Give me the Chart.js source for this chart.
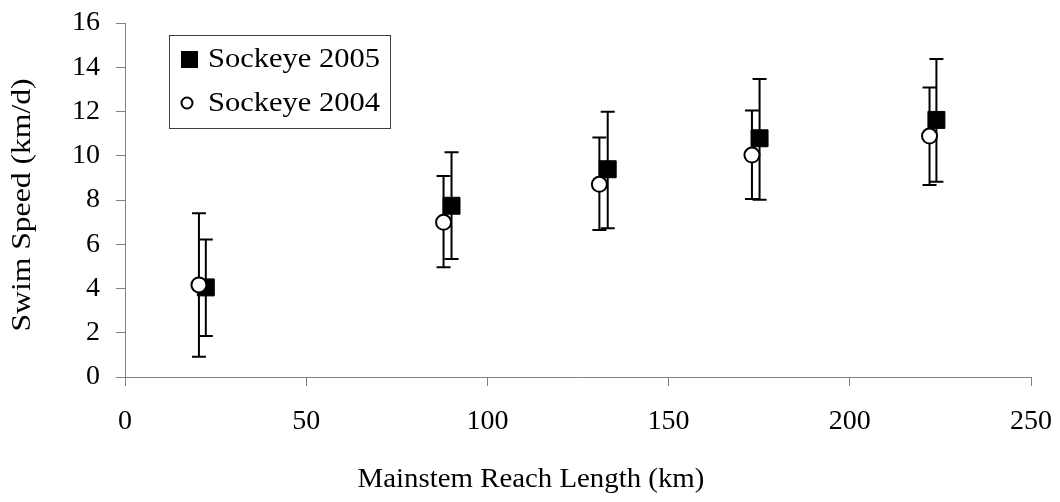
<!DOCTYPE html>
<html>
<head>
<meta charset="utf-8">
<script src="https://cdn.jsdelivr.net/npm/chart.js@4/dist/chart.umd.min.js"></script>
<style>
  body { margin: 0; background: #fff; }
  #wrap { width: 1060px; height: 502px; }
</style>
</head>
<body>
<div id="wrap"><canvas id="grafico" width="1060" height="502"></canvas></div>
<script>
// dados
const km2005 = [22.3, 90.1, 133.2, 175.1, 223.9];
const speed2005 = [4.05, 7.74, 9.39, 10.79, 11.62];
const hi2005 = [6.22, 10.16, 11.99, 13.47, 14.37];
const lo2005 = [1.85, 5.33, 6.72, 8.01, 8.83];

const km2004 = [20.4, 87.9, 130.9, 173.0, 222.0];
const speed2004 = [4.16, 6.99, 8.71, 10.03, 10.89];
const hi2004 = [7.40, 9.08, 10.82, 12.04, 13.09];
const lo2004 = [0.92, 4.96, 6.64, 8.05, 8.68];

const xTicks = [0, 50, 100, 150, 200, 250];
const yTicks = [0, 2, 4, 6, 8, 10, 12, 14, 16];

const tituloX = 'Mainstem Reach Length (km)';
const tituloY = 'Swim Speed (km/d)';

const familia = "'Liberation Serif', 'Times New Roman', serif";
const fonte = { family: familia, size: 28 };

function pontos(xs, ys, his, los) {
  return xs.map((x, i) => ({ x: x, y: ys[i], hi: his[i], lo: los[i] }));
}

// texto levemente esticado na horizontal
function textoEsticado(ctx, txt, x, y, rot, esticar) {
  ctx.save();
  ctx.translate(x, y);
  ctx.rotate(rot);
  ctx.scale(esticar, 1);
  ctx.fillText(txt, 0, 0);
  ctx.restore();
}

// barras de erro desenhadas antes dos marcadores
const barrasErro = {
  id: 'barrasErro',
  beforeDatasetsDraw(chart) {
    const ctx = chart.ctx;
    const xs = chart.scales.x, ys = chart.scales.y;
    ctx.save();
    ctx.strokeStyle = '#000';
    ctx.lineWidth = 2;
    chart.data.datasets.forEach(ds => {
      ds.data.forEach(p => {
        const px = xs.getPixelForValue(p.x);
        const top = ys.getPixelForValue(p.hi);
        const bot = ys.getPixelForValue(p.lo);
        ctx.beginPath();
        ctx.moveTo(px, top); ctx.lineTo(px, bot);
        ctx.moveTo(px - 7, top); ctx.lineTo(px + 7, top);
        ctx.moveTo(px - 7, bot); ctx.lineTo(px + 7, bot);
        ctx.stroke();
      });
    });
    ctx.restore();
  }
};

// títulos dos eixos + legenda dentro da área do gráfico
const legendaCaixa = {
  id: 'legendaCaixa',
  afterDraw(chart) {
    const ctx = chart.ctx;
    ctx.save();
    ctx.font = '28px ' + familia;
    ctx.fillStyle = '#000';
    ctx.textAlign = 'center';
    ctx.textBaseline = 'middle';
    textoEsticado(ctx, tituloX, 531, 480, 0, 1.03);
    textoEsticado(ctx, tituloY, 23, 205, -Math.PI / 2, 1.13);

    ctx.fillStyle = '#fff';
    ctx.fillRect(169, 35, 222, 94);
    ctx.strokeStyle = '#404040';
    ctx.lineWidth = 1;
    ctx.strokeRect(169.5, 35.5, 221, 93);
    ctx.textAlign = 'left';
    ctx.fillStyle = '#000';
    // Sockeye 2005
    ctx.fillRect(181, 51, 17, 17);
    textoEsticado(ctx, chart.data.datasets[1].label, 208, 60, 0, 1.09);
    // Sockeye 2004
    ctx.beginPath();
    ctx.arc(187, 103, 5.5, 0, Math.PI * 2);
    ctx.fillStyle = '#fff';
    ctx.fill();
    ctx.lineWidth = 2;
    ctx.strokeStyle = '#000';
    ctx.stroke();
    ctx.fillStyle = '#000';
    textoEsticado(ctx, chart.data.datasets[0].label, 208, 104, 0, 1.09);
    ctx.restore();
  }
};

new Chart(document.getElementById('grafico'), {
  type: 'scatter',
  data: {
    datasets: [
      {
        label: 'Sockeye 2004',
        data: pontos(km2004, speed2004, hi2004, lo2004),
        pointStyle: 'circle',
        pointRadius: 7.5,
        pointBackgroundColor: '#fff',
        pointBorderColor: '#000',
        pointBorderWidth: 2,
        order: 0
      },
      {
        label: 'Sockeye 2005',
        data: pontos(km2005, speed2005, hi2005, lo2005),
        pointStyle: 'rect',
        pointRadius: 12,
        pointBackgroundColor: '#000',
        pointBorderColor: '#000',
        pointBorderWidth: 1,
        order: 1
      }
    ]
  },
  options: {
    responsive: false,
    animation: false,
    layout: { padding: { top: 23, right: 29, left: 0, bottom: 0 } },
    plugins: {
      legend: { display: false },
      tooltip: { enabled: false }
    },
    scales: {
      x: {
        type: 'linear',
        min: 0, max: 250,
        afterBuildTicks: s => { s.ticks = xTicks.map(v => ({ value: v })); },
        afterFit: s => { s.height = 125; s.paddingLeft = 0; s.paddingRight = 0; },
        grid: { drawOnChartArea: false, drawTicks: true, tickLength: 9, color: '#808080', lineWidth: 1 },
        border: { display: true, color: '#808080', width: 1 },
        ticks: { color: '#000', font: fonte, padding: 19, maxRotation: 0 },
        title: { display: false }
      },
      y: {
        type: 'linear',
        min: 0, max: 16,
        afterBuildTicks: s => { s.ticks = yTicks.map(v => ({ value: v })); },
        afterFit: s => { s.width = 125; s.paddingTop = 0; s.paddingBottom = 0; },
        grid: { drawOnChartArea: false, drawTicks: true, tickLength: 9, color: '#808080', lineWidth: 1 },
        border: { display: true, color: '#808080', width: 1 },
        ticks: { color: '#000', font: fonte, padding: 16 },
        title: { display: false }
      }
    }
  },
  plugins: [barrasErro, legendaCaixa]
});
</script>
</body>
</html>
